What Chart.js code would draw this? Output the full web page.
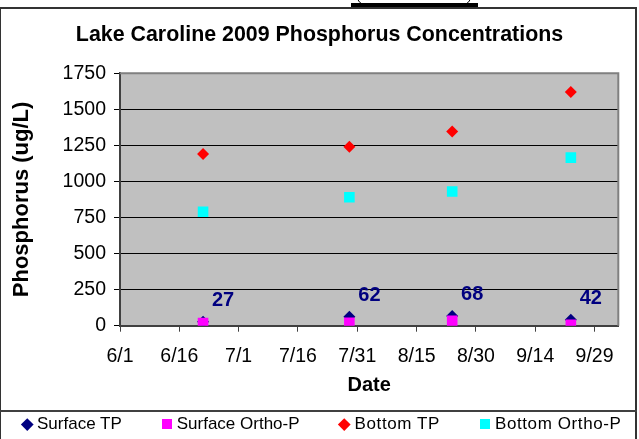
<!DOCTYPE html>
<html>
<head>
<meta charset="utf-8">
<title>Lake Caroline 2009 Phosphorus Concentrations</title>
<script src="https://cdn.jsdelivr.net/npm/chart.js@4/dist/chart.umd.min.js"></script>
<style>
  html, body { margin: 0; padding: 0; background: #fff; }
  #wrap { position: relative; width: 639px; height: 439px; overflow: hidden; font-family: "Liberation Sans", Arial, sans-serif; }
  #chart { position: absolute; left: 0; top: 0; }
  #frame { position: absolute; left: -1px; top: 7px; width: 638px; height: 460px; box-sizing: border-box; border: 2px solid #333; pointer-events: none; }
  #tab { position: absolute; left: 351px; top: 3px; width: 127px; height: 4px; background: #000; }
  #tabOutline { position: absolute; left: 357px; top: -12px; width: 114px; height: 17px; box-sizing: border-box; border: 1px solid #000; border-radius: 8px; }
  #legend { position: absolute; left: 0; top: 410px; width: 637px; height: 40px; box-sizing: border-box; border-top: 2px solid #404040; display: flex; align-items: flex-start; padding-left: 21px; gap: 39px; }
  .item { display: flex; align-items: center; height: 24px; font-size: 17px; color: #000; white-space: nowrap; }
  .item.wide { letter-spacing: 0.6px; }
  .mark { width: 12px; height: 12px; margin-right: 4px; display: flex; align-items: center; justify-content: center; }
  .mark span { display: block; }
</style>
</head>
<body>
<div id="wrap">
  <canvas id="chart" width="639" height="439"></canvas>
  <div id="tabOutline"></div>
  <div id="tab"></div>
  <div id="frame"></div>
  <div id="legend"></div>
</div>
<script>
// Sampling dates and measured values (ug/L)
const sampleDates = ["6/22", "7/29", "8/24", "9/23"];
const surfaceTP = [27, 62, 68, 42];
const surfaceOrthoP = [18, 20, 34, 7];
const bottomTP = [1190, 1240, 1345, 1620];
const bottomOrthoP = [790, 890, 930, 1165];

// Axis labels
const dateTicks = ["6/1", "6/16", "7/1", "7/16", "7/31", "8/15", "8/30", "9/14", "9/29"];
const axisStart = "6/1";
const axisEnd = "10/5";
const yMax = 1750;
const yStep = 250;

const FONT = "'Liberation Sans', Arial, sans-serif";

// days since the start of the axis (6/1/2009)
function dayOfSeason(md) {
  const [m, d] = md.split("/").map(Number);
  const [m0, d0] = axisStart.split("/").map(Number);
  return (Date.UTC(2009, m - 1, d) - Date.UTC(2009, m0 - 1, d0)) / 86400000;
}

function toPoints(values) {
  return values.map((v, i) => ({ x: dayOfSeason(sampleDates[i]), y: v }));
}

// gray plot area like Excel
const plotBackground = {
  id: "plotBackground",
  beforeDraw(chart) {
    const { ctx, chartArea } = chart;
    ctx.save();
    ctx.fillStyle = "#C0C0C0";
    ctx.fillRect(chartArea.left, chartArea.top, chartArea.right - chartArea.left, chartArea.bottom - chartArea.top);
    ctx.restore();
  },
  afterDraw(chart) {
    const { ctx, chartArea } = chart;
    ctx.save();
    ctx.strokeStyle = "#808080";
    ctx.lineWidth = 2;
    ctx.beginPath();
    ctx.moveTo(chartArea.left, chartArea.top);
    ctx.lineTo(chartArea.right, chartArea.top);
    ctx.lineTo(chartArea.right, chartArea.bottom);
    ctx.stroke();
    ctx.restore();
  },
};

// data labels on the Surface TP points
const valueLabels = {
  id: "valueLabels",
  afterDatasetsDraw(chart) {
    const ctx = chart.ctx;
    const meta = chart.getDatasetMeta(0);
    ctx.save();
    ctx.font = "bold 20px " + FONT;
    ctx.fillStyle = "#000080";
    ctx.textAlign = "center";
    ctx.textBaseline = "middle";
    meta.data.forEach((pt, i) => {
      ctx.fillText(String(surfaceTP[i]), pt.x + 20, pt.y - 21);
    });
    ctx.restore();
  },
};

const datasets = [
  { label: "Surface TP", data: toPoints(surfaceTP), pointStyle: "rectRot", pointRadius: 6, backgroundColor: "#000080", order: 1 },
  { label: "Surface Ortho-P", data: toPoints(surfaceOrthoP), pointStyle: "rect", pointRadius: 7.5, backgroundColor: "#FF00FF", order: 0 },
  { label: "Bottom TP", data: toPoints(bottomTP), pointStyle: "rectRot", pointRadius: 6, backgroundColor: "#FF0000", order: 2 },
  { label: "Bottom Ortho-P", data: toPoints(bottomOrthoP), pointStyle: "rect", pointRadius: 7.5, backgroundColor: "#00FFFF", order: 3 },
];
datasets.forEach((ds) => {
  ds.borderWidth = 0;
  ds.borderColor = ds.backgroundColor;
  ds.pointHoverRadius = ds.pointRadius;
  ds.showLine = false;
});

const chart = new Chart(document.getElementById("chart"), {
  type: "scatter",
  data: { datasets: datasets },
  plugins: [plotBackground, valueLabels],
  options: {
    responsive: false,
    animation: false,
    devicePixelRatio: 1,
    layout: { padding: 0 },
    plugins: {
      legend: { display: false },
      tooltip: { enabled: false },
      title: {
        display: true,
        text: "Lake Caroline 2009 Phosphorus Concentrations",
        color: "#000",
        font: { family: FONT, size: 21.4, weight: "bold" },
        padding: { top: 22.1, bottom: 25.4 },
      },
    },
    scales: {
      x: {
        type: "linear",
        min: 0,
        max: dayOfSeason(axisEnd),
        afterBuildTicks: (scale) => {
          scale.ticks = dateTicks.map((t) => ({ value: dayOfSeason(t) }));
        },
        afterFit: (scale) => {
          scale.height = 113.3;
        },
        ticks: {
          autoSkip: false,
          maxRotation: 0,
          color: "#000",
          padding: 13,
          font: { family: FONT, size: 19.5 },
          callback: (value, index) => dateTicks[index],
        },
        grid: { drawOnChartArea: false, tickLength: 6, color: "#404040" },
        border: { color: "#404040", width: 2 },
        title: {
          display: true,
          text: "Date",
          color: "#000",
          font: { family: FONT, size: 20, weight: "bold" },
          padding: { top: 0, bottom: 42 },
        },
      },
      y: {
        min: 0,
        max: yMax,
        afterFit: (scale) => {
          scale.width = 120;
        },
        ticks: {
          stepSize: yStep,
          color: "#000",
          padding: 8,
          font: { family: FONT, size: 19.5 },
          callback: (value) => String(value),
        },
        grid: { color: "#000", lineWidth: 1, tickLength: 6 },
        border: { color: "#404040", width: 2 },
        title: {
          display: true,
          text: "Phosphorus (ug/L)",
          color: "#000",
          font: { family: FONT, size: 22, weight: "bold" },
          padding: { top: 9, bottom: 0 },
        },
      },
      // empty strip on the right of the plot, keeps the title centred on the page
      right: {
        type: "linear",
        position: "right",
        display: true,
        grid: { display: false },
        border: { display: false },
        ticks: { display: false },
        afterFit: (scale) => {
          scale.width = 20.7;
        },
      },
    },
  },
});

// Build legend from the datasets
function buildLegend(chart) {
  const legend = document.getElementById("legend");
  legend.innerHTML = "";
  chart.data.datasets.forEach((ds) => {
    const item = document.createElement("div");
    item.className = ds.label.startsWith("Bottom") ? "item wide" : "item";
    const mark = document.createElement("div");
    mark.className = "mark";
    const shape = document.createElement("span");
    shape.style.background = ds.backgroundColor;
    if (ds.pointStyle === "rectRot") {
      shape.style.width = "8.5px";
      shape.style.height = "8.5px";
      shape.style.transform = "rotate(45deg)";
    } else {
      shape.style.width = "10px";
      shape.style.height = "10px";
    }
    mark.appendChild(shape);
    const text = document.createElement("span");
    text.textContent = ds.label;
    item.appendChild(mark);
    item.appendChild(text);
    legend.appendChild(item);
  });
}

buildLegend(chart);
</script>
</body>
</html>
